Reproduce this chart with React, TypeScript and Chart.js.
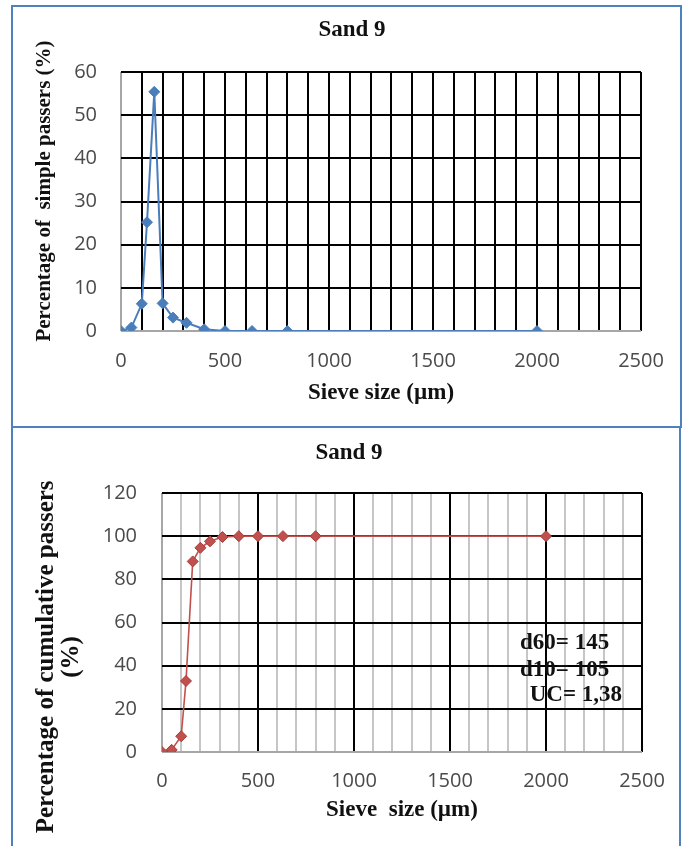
import React, { useEffect, useRef } from "react";
import { Chart, registerables } from "chart.js";

Chart.register(...registerables);

// ---- data ----
const sieveSizes = [0, 50, 100, 125, 160, 200, 250, 315, 400, 500, 630, 800, 2000];
const simplePassers = [0, 0.8, 6.3, 25.2, 55.4, 6.4, 3.1, 1.9, 0.4, 0, 0, 0, 0];
const cumulativePassers = [0, 1, 7.3, 32.9, 88.3, 94.6, 97.6, 99.6, 100, 100, 100, 100, 100];
const xMax = 2500;
const xStep = 100;
const xLabelEvery = 500;
const yMaxTop = 60;
const yStepTop = 10;
const yMaxBottom = 120;
const yStepBottom = 20;
const chartTitle = "Sand 9";
const xTitleTop = "Sieve size (µm)";
const xTitleBottom = "Sieve  size (µm)";
const yTitleTop = "    Percentage of  simple passers (%)";
const yTitleBottom = ["Percentage of cumulative passers           ", "(%)           "];
const notes = ["d60= 145", "d10= 105", "UC= 1,38"];
const notesX = [1865, 1865, 1915];
const notesY = [50.5, 38, 26.4];

const SERIF = '"Liberation Serif", "Times New Roman", serif';
const SANS = '"Open Sans", "Liberation Sans", sans-serif';
const BLUE = "#4a7ebb";
const RED = "#c0504d";
const TICK = "#4a4a4a";

const pts = (ys: number[]) => sieveSizes.map((x, i) => ({ x, y: ys[i] }));

const notesPlugin = {
  id: "notes",
  afterDatasetsDraw(chart: any) {
    const { ctx, scales } = chart;
    const x = scales.x;
    const y = scales.y;
    ctx.save();
    ctx.font = `bold 23px ${SERIF}`;
    ctx.fillStyle = "#111";
    ctx.textBaseline = "middle";
    ctx.textAlign = "left";
    notes.forEach((t, i) => {
      ctx.fillText(t, x.getPixelForValue(notesX[i]), y.getPixelForValue(notesY[i]));
    });
    ctx.restore();
  },
};

function makeConfig(kind: "top" | "bottom"): any {
  const isTop = kind === "top";
  const data = isTop ? pts(simplePassers) : pts(cumulativePassers);
  const color = isTop ? BLUE : RED;
  const padLeft = isTop ? 16 : 10;
  const plotLeft = isTop ? 121 : 162;
  const rightGap = isTop ? 47 : 46;
  const xAxisH = isTop ? 97 : 94;
  const titleSize = 23;
  const titleLH = titleSize * 1.2;
  const titleCenter = isTop ? 30 : 25;
  const plotTop = isTop ? 72 : 65;
  const titlePadTop = titleCenter - titleLH / 2;
  const titlePadBottom = plotTop - titlePadTop - titleLH;
  const yTitleFont = isTop
    ? { family: SERIF, size: 21, weight: "bold", lineHeight: 1.2 }
    : { family: SERIF, size: 25, weight: "bold", lineHeight: 1.0 };
  const yTitleCenter = isTop ? 45 : 47;
  const yTitleLH = yTitleFont.size * yTitleFont.lineHeight;
  return {
    type: "line",
    data: {
      datasets: [
        {
          data,
          borderColor: color,
          backgroundColor: color,
          borderWidth: isTop ? 2 : 1.6,
          pointStyle: "rectRot",
          pointRadius: 5.5,
          pointBackgroundColor: color,
          pointBorderColor: isTop ? BLUE : "#a83c39",
          pointBorderWidth: 1,
          tension: 0,
        },
      ],
    },
    options: {
      animation: false,
      responsive: false,
      devicePixelRatio: 1,
      layout: { padding: { left: padLeft, right: 0, top: 0, bottom: 0 } },
      plugins: {
        legend: { display: false },
        tooltip: { enabled: false },
        title: {
          display: true,
          text: chartTitle,
          color: "#111",
          font: { family: SERIF, size: titleSize, weight: "bold", lineHeight: 1.2 },
          padding: { top: titlePadTop, bottom: titlePadBottom },
        },
      },
      scales: {
        x: {
          type: "linear",
          min: 0,
          max: xMax,
          afterFit: (s: any) => {
            s.height = xAxisH;
          },
          border: { display: false },
          grid: {
            drawTicks: false,
            lineWidth: 2,
            color: (c: any) => {
              const v = c.tick ? c.tick.value : -1;
              if (v === 0) return "#a6a6a6";
              if (isTop) return "#000";
              return v % xLabelEvery === 0 ? "#000" : "#c6c6c6";
            },
          },
          ticks: {
            stepSize: xStep,
            autoSkip: false,
            maxRotation: 0,
            padding: isTop ? 18 : 17,
            color: TICK,
            font: { family: SANS, size: 20 },
            callback: (v: any) => (Number(v) % xLabelEvery === 0 ? String(v) : ""),
          },
          title: {
            display: true,
            text: isTop ? xTitleTop : xTitleBottom,
            color: "#111",
            font: { family: SERIF, size: 23, weight: "bold", lineHeight: 1.2 },
            padding: { top: 0, bottom: isTop ? 21 : 22 },
          },
        },
        y: {
          type: "linear",
          min: 0,
          max: isTop ? yMaxTop : yMaxBottom,
          afterFit: (s: any) => {
            s.width = plotLeft - padLeft;
          },
          border: { display: false },
          grid: {
            drawTicks: false,
            lineWidth: 2,
            color: (c: any) => (c.tick && c.tick.value === 0 ? "#a6a6a6" : "#000"),
          },
          ticks: {
            stepSize: isTop ? yStepTop : yStepBottom,
            padding: isTop ? 24 : 25,
            color: TICK,
            font: { family: SANS, size: 20 },
          },
          title: {
            display: true,
            text: isTop ? yTitleTop : yTitleBottom,
            color: "#111",
            font: yTitleFont,
            padding: { top: yTitleCenter - padLeft - yTitleLH / 2, bottom: 0 },
          },
        },
        spacer: {
          type: "linear",
          position: "right",
          display: true,
          afterFit: (s: any) => {
            s.width = rightGap;
          },
          border: { display: false },
          grid: { display: false, drawTicks: false },
          ticks: { display: false },
        },
      },
    },
    plugins: isTop ? [] : [notesPlugin],
  };
}

function SieveChart({ kind, top, height }: { kind: "top" | "bottom"; top: number; height: number }) {
  const ref = useRef<HTMLCanvasElement>(null);
  useEffect(() => {
    const chart = new Chart(ref.current as HTMLCanvasElement, makeConfig(kind));
    return () => chart.destroy();
  }, [kind]);
  return (
    <canvas
      ref={ref}
      width={688}
      height={height}
      style={{ position: "absolute", left: 0, top, width: 688, height, display: "block" }}
    />
  );
}

export default function App() {
  return (
    <div
      style={{
        position: "absolute",
        left: 0,
        top: 0,
        width: 688,
        height: 846,
        overflow: "hidden",
        background: "#fff",
      }}
    >
      <SieveChart kind="top" top={0} height={428} />
      <SieveChart kind="bottom" top={428} height={418} />
      <div
        style={{
          position: "absolute",
          left: 11,
          top: 5,
          width: 667,
          height: 419,
          border: "2px solid #4f81bd",
          pointerEvents: "none",
        }}
      />
      <div
        style={{
          position: "absolute",
          left: 11,
          top: 426,
          width: 666,
          height: 440,
          border: "2px solid #4f81bd",
          pointerEvents: "none",
        }}
      />
    </div>
  );
}
